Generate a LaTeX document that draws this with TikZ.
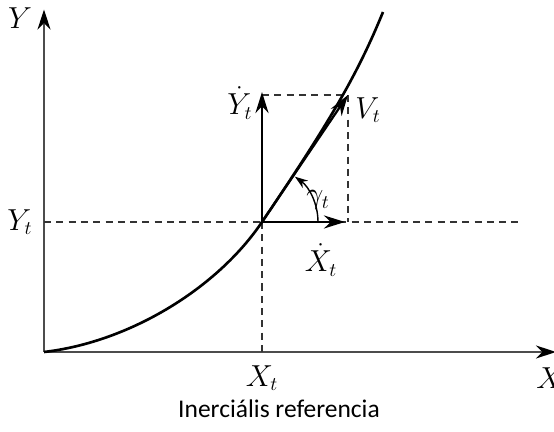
\documentclass[tikz,border=0pt]{standalone}
\usepackage{amsmath,amssymb}
\usepackage{fontspec}
\newfontfamily\captionfont{Carlito}
\usepackage{tikz}
\usetikzlibrary{arrows, arrows.meta, positioning, calc}

\begin{document}
\begin{tikzpicture}[
			lbl/.style={font=\fontsize{16}{18}\selectfont,inner sep=1pt},
			axis/.style={draw=black!70,line width=1pt,-{Stealth[length=4mm,width=2.6mm,color=black]}},
			vec/.style={draw=black,line width=1.6pt,-{Stealth[length=4.2mm,width=2.6mm]}},
			guide/.style={draw=black!80,line width=0.7pt,dash pattern=on 4pt off 3pt}
			]
			\useasboundingbox (0,0) rectangle (11.08,8.64);
			\coordinate (O) at (0.88,1.6);
			\coordinate (P) at (5.24,4.2);
			\coordinate (Ytop) at (0.88,8.45);
			\coordinate (Xend) at (11.12,1.6);
			\coordinate (Xdot) at (6.90,4.2);
			\coordinate (Ydot) at (5.24,6.80);
			\coordinate (V) at (6.96,6.74);
			\coordinate (C) at (6.96,4.2);
			\coordinate (D) at (5.24,6.74);
			\coordinate (Pfoot) at (5.24,1.6);
			\coordinate (Yleft) at (0.88,4.2);
			\coordinate (Hend) at (10.4,4.2);
			\coordinate (Cend) at (7.66,8.40);
			
			% axes
			\draw[axis] (O) -- (Xend);
			\draw[axis] (O) -- (Ytop);
			\node[lbl] (Y) at (0.4,8.28) {$Y$};
			\node[lbl] (X) at (11.0,1.08) {$X$};
			
			% guides
			\draw[guide] (Yleft) -- (Hend);
			\draw[guide] (P) -- (Pfoot);
			\draw[guide] (D) -- (V) -- (C);
			
			% trajectory
			\draw[line width=1.5pt] (O) .. controls (2.6,1.8) and (4.35,2.88) .. (P)
				.. controls (6.6,6.21) and (7.15,7.15) .. (Cend);
			
			% vectors
			\draw[vec] (P) -- (Xdot);
			\draw[vec] (P) -- (Ydot);
			\draw[vec,line width=1.3pt] (P) -- (V);
			\draw[line width=0.8pt,-{Stealth[length=2.6mm,width=1.8mm]}] ($(P)+(1.12,0)$) arc[start angle=0,end angle=54,radius=1.12];
			
			\node[lbl] (Yt) at (0.4,4.2) {$Y_t$};
			\node[lbl] (Xt) at (5.24,1.08) {$X_t$};
			\node[lbl] (Xdt) at (6.42,3.44) {$\dot{X}_t$};
			\node[lbl] (Ydt) at (4.8,6.58) {$\dot{Y}_t$};
			\node[lbl] (Vt) at (7.36,6.44) {$V_t$};
			\node[lbl] (gam) at (6.36,4.64) {$\gamma_t$};
			\node[font=\captionfont\fontsize{14.5}{17}\selectfont] (cap) at (5.58,0.46) {Inerciális referencia};
		\end{tikzpicture}
\end{document}
